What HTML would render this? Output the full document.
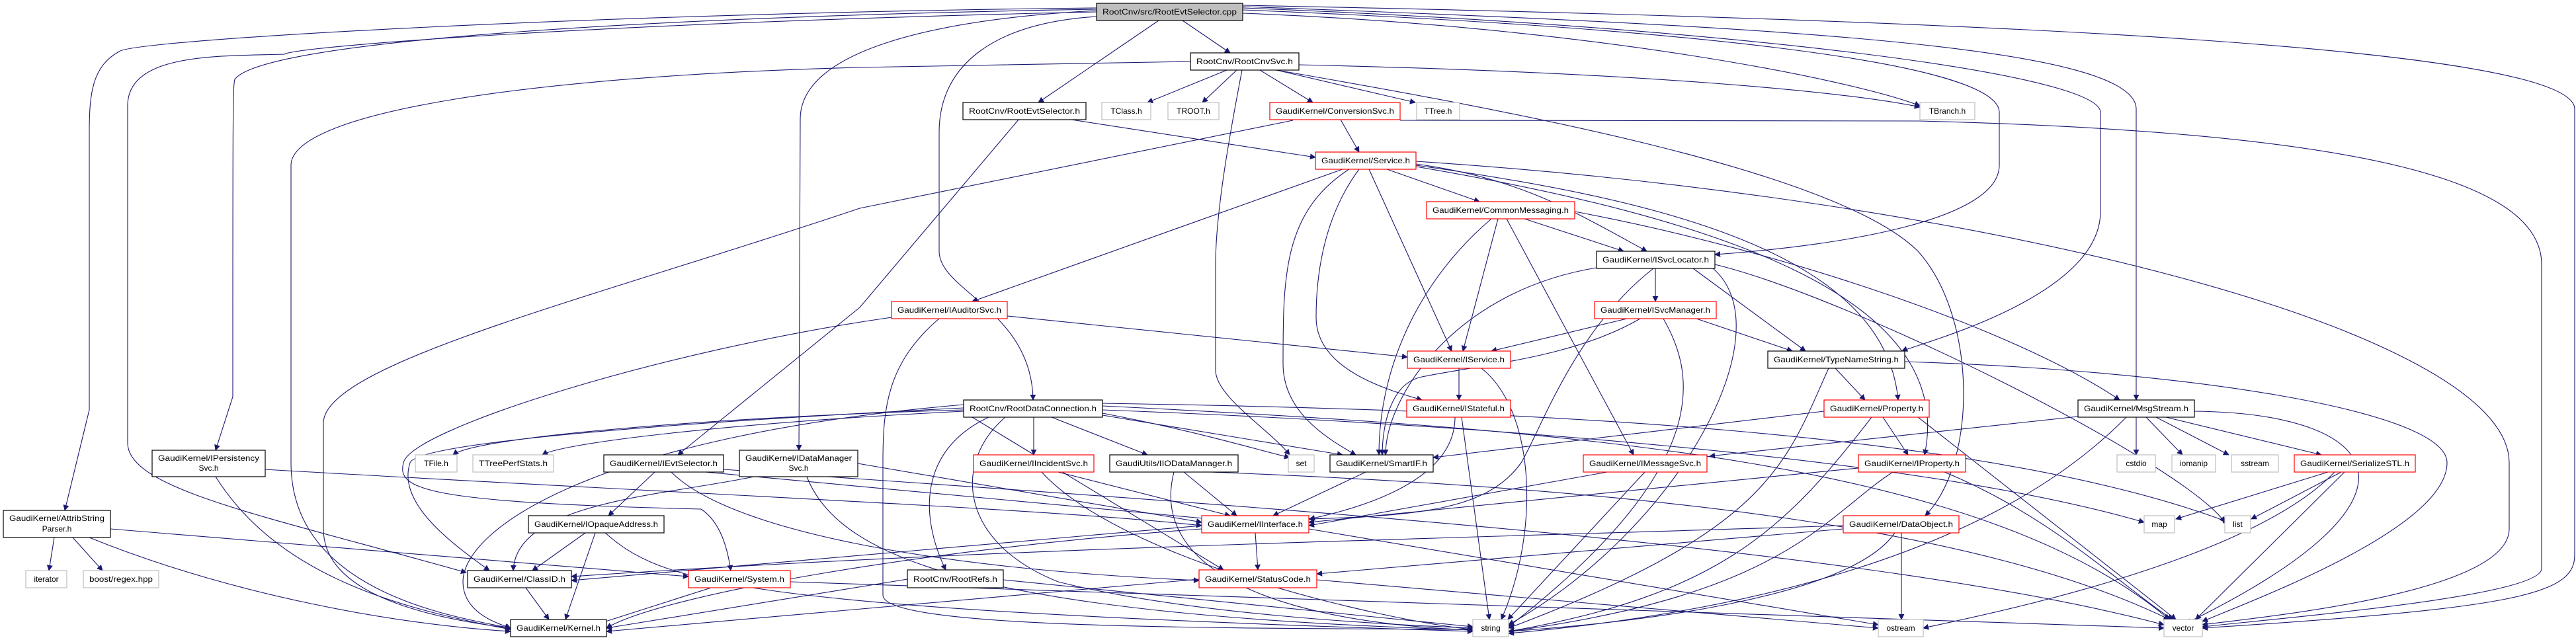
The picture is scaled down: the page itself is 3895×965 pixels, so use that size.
<!DOCTYPE html>
<html><head><meta charset="utf-8"><style>
html,body{margin:0;padding:0;background:#fff;}
svg{display:block;}
text{font-family:"Liberation Sans",sans-serif;font-size:12px;fill:#000;}
.e{fill:none;stroke:#191970;stroke-width:1.1;}
.n{fill:#fff;stroke:#000;stroke-width:1.2;}
.r{fill:#fff;stroke:#f00;stroke-width:1.2;}
.g{fill:#fff;stroke:#bfbfbf;stroke-width:1.2;}
</style></head><body>
<svg width="3895" height="965" viewBox="0 0 3895 965" xmlns="http://www.w3.org/2000/svg">
<defs><marker id="a" viewBox="0 0 10 10" refX="9" refY="5" markerWidth="9" markerHeight="9" markerUnits="userSpaceOnUse" orient="auto"><path d="M0,0 L10,5 L0,10 z" fill="#191970"/></marker></defs>
<g class="e" marker-end="url(#a)">
<path d="M1788,31 L1860,80"/>
<path d="M1752,31 L1570,155"/>
<path d="M1658,25 C1500,35 1420,100 1420,200 L1420,380 C1420,440 1560,470 1562,605"/>
<path d="M1658,16 C1400,30 1210,80 1210,180 L1208,681"/>
<path d="M1658,14 C1000,25 400,60 355,120 C352,130 352,170 352,600 L326,681"/>
<path d="M1658,12 C900,20 200,60 180,78 C140,100 135,140 135,200 L135,620 L98,772"/>
<path d="M1658,18 C900,35 450,70 430,82 C330,85 193,80 193,160 L193,670 C193,740 400,780 705,866"/>
<path d="M1879,20 C2400,40 2800,120 2903,160"/>
<path d="M1879,15 C2500,40 3023,90 3023,170 L3023,250 C3023,330 2800,370 2593,385"/>
<path d="M1879,12 C2600,40 3176,110 3176,170 L3176,320 C3176,450 2900,520 2876,531"/>
<path d="M1879,10 C2700,40 3230,70 3230,165 L3230,605"/>
<path d="M1879,8 C3000,30 3893,70 3893,165 L3893,840 C3893,900 3800,920 3330,950"/>
<path d="M1855,106 L1735,155"/>
<path d="M1870,106 L1818,155"/>
<path d="M1905,106 L1985,155"/>
<path d="M1930,106 L2140,155"/>
<path d="M1964,98 C2500,110 2800,140 2903,162"/>
<path d="M1878,106 C1860,200 1838,320 1838,400 L1838,560 C1838,600 1920,650 1950,688"/>
<path d="M1800,93 L1300,102 C800,115 440,170 440,250 L440,700 C440,900 700,935 772,950"/>
<path d="M1930,106 C2300,170 2780,260 2900,380 C2990,480 2990,700 2911,780"/>
<path d="M1620,181 L1989,238"/>
<path d="M1540,181 L1300,465 L1025,688"/>
<path d="M2027,181 L2055,230"/>
<path d="M1955,182 L1300,315 C900,450 489,550 489,640 L489,800 C489,900 650,935 772,950"/>
<path d="M2117,182 L2900,183 C3600,200 3843,280 3843,400 L3843,860 C3843,900 3500,930 3330,948"/>
<path d="M2097,256 L2237,305"/>
<path d="M2141,248 C2300,270 2380,320 2490,380"/>
<path d="M2030,256 L1470,456"/>
<path d="M2070,256 L2195,531"/>
<path d="M2040,256 C1940,320 1940,420 1940,550 C1940,620 2000,660 2050,688"/>
<path d="M2055,256 C2000,330 1990,420 1990,480 C1990,560 2100,590 2150,605"/>
<path d="M2141,250 C2500,300 2850,380 2870,605"/>
<path d="M2141,252 C2600,330 2960,450 2910,688"/>
<path d="M2381,320 C2700,380 3050,500 3205,605"/>
<path d="M2141,244 C3000,300 3794,500 3794,700 L3794,800 C3794,900 3400,935 3330,945"/>
<path d="M2305,331 L2455,380"/>
<path d="M2265,331 L2212,531"/>
<path d="M2255,331 C2150,420 2085,550 2085,688"/>
<path d="M2278,331 L2470,688"/>
<path d="M2503,406 L2503,456"/>
<path d="M2560,406 L2730,531"/>
<path d="M2500,406 C2380,500 2330,650 2300,700 C2250,770 2150,780 1979,785"/>
<path d="M2414,405 C2200,440 2095,600 2095,688"/>
<path d="M2590,406 C2700,500 2540,800 2281,945"/>
<path d="M2593,400 C2800,450 3300,700 3364,790"/>
<path d="M1523,478 L2128,540"/>
<path d="M1420,482 C1340,550 1335,620 1335,700 L1335,900 C1335,950 1800,950 2227,952"/>
<path d="M1348,480 C1000,530 620,650 610,700 C600,740 640,760 1060,770 C1090,790 1100,830 1105,863"/>
<path d="M2460,482 L2255,531"/>
<path d="M2480,482 C2380,540 2250,550 2150,570 C2100,580 2090,650 2090,688"/>
<path d="M2515,482 C2560,560 2600,700 2281,948"/>
<path d="M2565,482 L2710,531"/>
<path d="M2206,557 L2206,605"/>
<path d="M2240,557 C2320,620 2330,800 2270,937"/>
<path d="M2200,631 C2200,730 2050,770 1980,785"/>
<path d="M2210,631 L2252,937"/>
<path d="M2775,557 L2820,605"/>
<path d="M2765,557 C2700,700 2680,800 2281,950"/>
<path d="M2880,547 C3300,560 3700,620 3700,700 C3700,800 3400,910 3330,940"/>
<path d="M2847,631 L2885,688"/>
<path d="M2758,622 L2167,692"/>
<path d="M2830,631 C2700,800 2600,900 2281,955"/>
<path d="M2900,631 L3290,937"/>
<path d="M3230,631 L3230,688"/>
<path d="M3245,631 L3300,688"/>
<path d="M3260,631 L3370,688"/>
<path d="M3275,631 L3510,688"/>
<path d="M3142,630 L2585,690"/>
<path d="M3215,631 C3000,850 2600,930 2281,958"/>
<path d="M3318,622 C3600,625 3700,750 3305,943"/>
<path d="M2810,708 L1979,790"/>
<path d="M2862,714 C2760,780 2700,900 2281,955"/>
<path d="M2940,714 C3100,780 3200,880 3285,937"/>
<path d="M3520,714 L3290,785"/>
<path d="M3540,714 L3404,785"/>
<path d="M3545,714 L3320,937"/>
<path d="M3530,714 C3400,850 3000,930 2908,950"/>
<path d="M2875,806 L2875,937"/>
<path d="M2865,806 C2800,900 2500,940 2281,955"/>
<path d="M2787,795 C2000,820 1500,830 864,872"/>
<path d="M2787,800 L1991,868"/>
<path d="M2430,714 L1979,795"/>
<path d="M2487,714 L2280,937"/>
<path d="M2065,714 L1925,780"/>
<path d="M1898,806 L1902,862"/>
<path d="M1817,795 L864,878"/>
<path d="M1817,800 C1400,830 1000,900 917,950"/>
<path d="M1979,800 L2840,945"/>
<path d="M1813,876 L917,955"/>
<path d="M1991,877 L2840,950"/>
<path d="M1563,631 L1563,688"/>
<path d="M1590,631 L1735,688"/>
<path d="M1667,625 C1800,650 1900,680 1950,692"/>
<path d="M1667,628 L2030,688"/>
<path d="M1457,620 C1100,630 720,660 685,688"/>
<path d="M1457,622 C1100,640 850,670 820,688"/>
<path d="M1495,631 C1390,680 1390,780 1430,862"/>
<path d="M1520,631 C1440,700 1450,820 1600,880 C1800,930 2100,945 2227,950"/>
<path d="M1457,617 C1000,640 630,670 620,700 C600,760 680,820 740,863"/>
<path d="M1457,612 C900,660 700,800 700,880 C700,930 760,945 772,950"/>
<path d="M1667,610 C2300,620 3000,650 3370,790"/>
<path d="M1667,614 C2400,650 3000,700 3280,937"/>
<path d="M1470,631 L1850,862"/>
<path d="M1600,714 L1860,780"/>
<path d="M1575,714 C1700,850 2100,940 2227,952"/>
<path d="M1790,714 L1870,780"/>
<path d="M1775,714 C1740,850 1900,940 2227,953"/>
<path d="M1830,714 C2500,740 3000,800 3280,937"/>
<path d="M1667,620 C2200,640 2900,690 3242,790"/>
<path d="M990,714 L920,780"/>
<path d="M1067,714 L1830,785"/>
<path d="M1015,714 C1100,800 1400,860 1813,878"/>
<path d="M1094,710 C1800,760 2800,820 3272,945"/>
<path d="M885,806 L805,863"/>
<path d="M900,806 L855,937"/>
<path d="M915,806 C1000,880 1100,920 2227,955"/>
<path d="M1297,701 L1817,790"/>
<path d="M1140,721 C1000,750 780,760 776,863"/>
<path d="M1220,721 C1270,850 1500,930 2227,953"/>
<path d="M401,710 C1000,745 1600,770 1817,795"/>
<path d="M326,721 C420,870 600,920 772,952"/>
<path d="M82,813 L74,863"/>
<path d="M110,813 L155,863"/>
<path d="M135,813 C350,900 600,945 772,955"/>
<path d="M167,800 L1041,872"/>
<path d="M795,889 L830,937"/>
<path d="M1075,889 L900,945"/>
<path d="M1195,880 L3272,950"/>
<path d="M1372,876 L917,950"/>
<path d="M1517,877 L2227,948"/>
</g>
<g>
<rect x="1658" y="5" width="221" height="26" fill="#bfbfbf" stroke="#000" stroke-width="1.2"/><text x="1768.5" y="22" text-anchor="middle" textLength="203" lengthAdjust="spacingAndGlyphs">RootCnv/src/RootEvtSelector.cpp</text>
<rect class="n" x="1800" y="80" width="164" height="26"/><text x="1882" y="97" text-anchor="middle" textLength="146" lengthAdjust="spacingAndGlyphs">RootCnv/RootCnvSvc.h</text>
<rect class="n" x="1456" y="155" width="186" height="26"/><text x="1549" y="172" text-anchor="middle" textLength="168" lengthAdjust="spacingAndGlyphs">RootCnv/RootEvtSelector.h</text>
<rect class="g" x="1666" y="155" width="74" height="26"/><text x="1703" y="172" text-anchor="middle">TClass.h</text>
<rect class="g" x="1766" y="155" width="77" height="26"/><text x="1804.5" y="172" text-anchor="middle">TROOT.h</text>
<rect class="r" x="1920" y="155" width="197" height="26"/><text x="2018.5" y="172" text-anchor="middle" textLength="179" lengthAdjust="spacingAndGlyphs">GaudiKernel/ConversionSvc.h</text>
<rect class="g" x="2142" y="155" width="65" height="26"/><text x="2174.5" y="172" text-anchor="middle">TTree.h</text>
<rect class="g" x="2903" y="155" width="83" height="26"/><text x="2944.5" y="172" text-anchor="middle">TBranch.h</text>
<rect class="r" x="1989" y="230" width="152" height="26"/><text x="2065" y="247" text-anchor="middle" textLength="134" lengthAdjust="spacingAndGlyphs">GaudiKernel/Service.h</text>
<rect class="r" x="2157" y="305" width="224" height="26"/><text x="2269" y="322" text-anchor="middle" textLength="206" lengthAdjust="spacingAndGlyphs">GaudiKernel/CommonMessaging.h</text>
<rect class="n" x="2414" y="380" width="179" height="26"/><text x="2503.5" y="397" text-anchor="middle" textLength="161" lengthAdjust="spacingAndGlyphs">GaudiKernel/ISvcLocator.h</text>
<rect class="r" x="1348" y="456" width="175" height="26"/><text x="1435.5" y="473" text-anchor="middle" textLength="157" lengthAdjust="spacingAndGlyphs">GaudiKernel/IAuditorSvc.h</text>
<rect class="r" x="2411" y="456" width="184" height="26"/><text x="2503" y="473" text-anchor="middle" textLength="166" lengthAdjust="spacingAndGlyphs">GaudiKernel/ISvcManager.h</text>
<rect class="r" x="2128" y="531" width="156" height="26"/><text x="2206" y="548" text-anchor="middle" textLength="138" lengthAdjust="spacingAndGlyphs">GaudiKernel/IService.h</text>
<rect class="n" x="2673" y="531" width="207" height="26"/><text x="2776.5" y="548" text-anchor="middle" textLength="189" lengthAdjust="spacingAndGlyphs">GaudiKernel/TypeNameString.h</text>
<rect class="n" x="1457" y="605" width="210" height="26"/><text x="1562" y="622" text-anchor="middle" textLength="192" lengthAdjust="spacingAndGlyphs">RootCnv/RootDataConnection.h</text>
<rect class="r" x="2127" y="605" width="157" height="26"/><text x="2205.5" y="622" text-anchor="middle" textLength="139" lengthAdjust="spacingAndGlyphs">GaudiKernel/IStateful.h</text>
<rect class="r" x="2758" y="605" width="159" height="26"/><text x="2837.5" y="622" text-anchor="middle" textLength="141" lengthAdjust="spacingAndGlyphs">GaudiKernel/Property.h</text>
<rect class="n" x="3142" y="605" width="176" height="26"/><text x="3230" y="622" text-anchor="middle" textLength="158" lengthAdjust="spacingAndGlyphs">GaudiKernel/MsgStream.h</text>
<rect class="n" x="230" y="681" width="171" height="40"/><text x="315.5" y="697" text-anchor="middle" textLength="153" lengthAdjust="spacingAndGlyphs">GaudiKernel/IPersistency</text><text x="315.5" y="712" text-anchor="middle">Svc.h</text>
<rect class="n" x="1118" y="681" width="179" height="40"/><text x="1207.5" y="697" text-anchor="middle" textLength="161" lengthAdjust="spacingAndGlyphs">GaudiKernel/IDataManager</text><text x="1207.5" y="712" text-anchor="middle">Svc.h</text>
<rect class="g" x="628" y="688" width="63" height="26"/><text x="659.5" y="705" text-anchor="middle">TFile.h</text>
<rect class="g" x="715" y="688" width="122" height="26"/><text x="776" y="705" text-anchor="middle" textLength="104" lengthAdjust="spacingAndGlyphs">TTreePerfStats.h</text>
<rect class="n" x="913" y="688" width="181" height="26"/><text x="1003.5" y="705" text-anchor="middle" textLength="163" lengthAdjust="spacingAndGlyphs">GaudiKernel/IEvtSelector.h</text>
<rect class="r" x="1472" y="688" width="182" height="26"/><text x="1563" y="705" text-anchor="middle" textLength="164" lengthAdjust="spacingAndGlyphs">GaudiKernel/IIncidentSvc.h</text>
<rect class="n" x="1678" y="688" width="194" height="26"/><text x="1775" y="705" text-anchor="middle" textLength="176" lengthAdjust="spacingAndGlyphs">GaudiUtils/IIODataManager.h</text>
<rect class="g" x="1948" y="688" width="39" height="26"/><text x="1967.5" y="705" text-anchor="middle">set</text>
<rect class="n" x="2011" y="688" width="156" height="26"/><text x="2089" y="705" text-anchor="middle" textLength="138" lengthAdjust="spacingAndGlyphs">GaudiKernel/SmartIF.h</text>
<rect class="r" x="2394" y="688" width="187" height="26"/><text x="2487.5" y="705" text-anchor="middle" textLength="169" lengthAdjust="spacingAndGlyphs">GaudiKernel/IMessageSvc.h</text>
<rect class="r" x="2810" y="688" width="162" height="26"/><text x="2891" y="705" text-anchor="middle" textLength="144" lengthAdjust="spacingAndGlyphs">GaudiKernel/IProperty.h</text>
<rect class="g" x="3201" y="688" width="58" height="26"/><text x="3230" y="705" text-anchor="middle">cstdio</text>
<rect class="g" x="3284" y="688" width="66" height="26"/><text x="3317" y="705" text-anchor="middle">iomanip</text>
<rect class="g" x="3374" y="688" width="71" height="26"/><text x="3409.5" y="705" text-anchor="middle">sstream</text>
<rect class="r" x="3469" y="688" width="183" height="26"/><text x="3560.5" y="705" text-anchor="middle" textLength="165" lengthAdjust="spacingAndGlyphs">GaudiKernel/SerializeSTL.h</text>
<rect class="n" x="5" y="772" width="162" height="41"/><text x="86" y="788" text-anchor="middle" textLength="144" lengthAdjust="spacingAndGlyphs">GaudiKernel/AttribString</text><text x="86" y="804" text-anchor="middle">Parser.h</text>
<rect class="n" x="799" y="780" width="205" height="26"/><text x="901.5" y="797" text-anchor="middle" textLength="187" lengthAdjust="spacingAndGlyphs">GaudiKernel/IOpaqueAddress.h</text>
<rect class="r" x="1817" y="780" width="162" height="26"/><text x="1898" y="797" text-anchor="middle" textLength="144" lengthAdjust="spacingAndGlyphs">GaudiKernel/IInterface.h</text>
<rect class="r" x="2787" y="780" width="175" height="26"/><text x="2874.5" y="797" text-anchor="middle" textLength="157" lengthAdjust="spacingAndGlyphs">GaudiKernel/DataObject.h</text>
<rect class="g" x="3242" y="780" width="46" height="26"/><text x="3265" y="797" text-anchor="middle">map</text>
<rect class="g" x="3364" y="780" width="39" height="26"/><text x="3383.5" y="797" text-anchor="middle">list</text>
<rect class="g" x="39" y="863" width="62" height="26"/><text x="70" y="880" text-anchor="middle">iterator</text>
<rect class="g" x="126" y="863" width="114" height="26"/><text x="183" y="880" text-anchor="middle" textLength="96" lengthAdjust="spacingAndGlyphs">boost/regex.hpp</text>
<rect class="n" x="707" y="863" width="157" height="26"/><text x="785.5" y="880" text-anchor="middle" textLength="139" lengthAdjust="spacingAndGlyphs">GaudiKernel/ClassID.h</text>
<rect class="r" x="1041" y="863" width="154" height="26"/><text x="1118" y="880" text-anchor="middle" textLength="136" lengthAdjust="spacingAndGlyphs">GaudiKernel/System.h</text>
<rect class="n" x="1372" y="862" width="145" height="27"/><text x="1444.5" y="880" text-anchor="middle" textLength="127" lengthAdjust="spacingAndGlyphs">RootCnv/RootRefs.h</text>
<rect class="r" x="1813" y="862" width="178" height="27"/><text x="1902" y="880" text-anchor="middle" textLength="160" lengthAdjust="spacingAndGlyphs">GaudiKernel/StatusCode.h</text>
<rect class="n" x="772" y="937" width="145" height="26"/><text x="844.5" y="954" text-anchor="middle" textLength="127" lengthAdjust="spacingAndGlyphs">GaudiKernel/Kernel.h</text>
<rect class="g" x="2227" y="937" width="54" height="26"/><text x="2254" y="954" text-anchor="middle">string</text>
<rect class="g" x="2840" y="937" width="68" height="26"/><text x="2874" y="954" text-anchor="middle">ostream</text>
<rect class="g" x="3272" y="937" width="58" height="26"/><text x="3301" y="954" text-anchor="middle">vector</text>
</g>
</svg>
</body></html>
